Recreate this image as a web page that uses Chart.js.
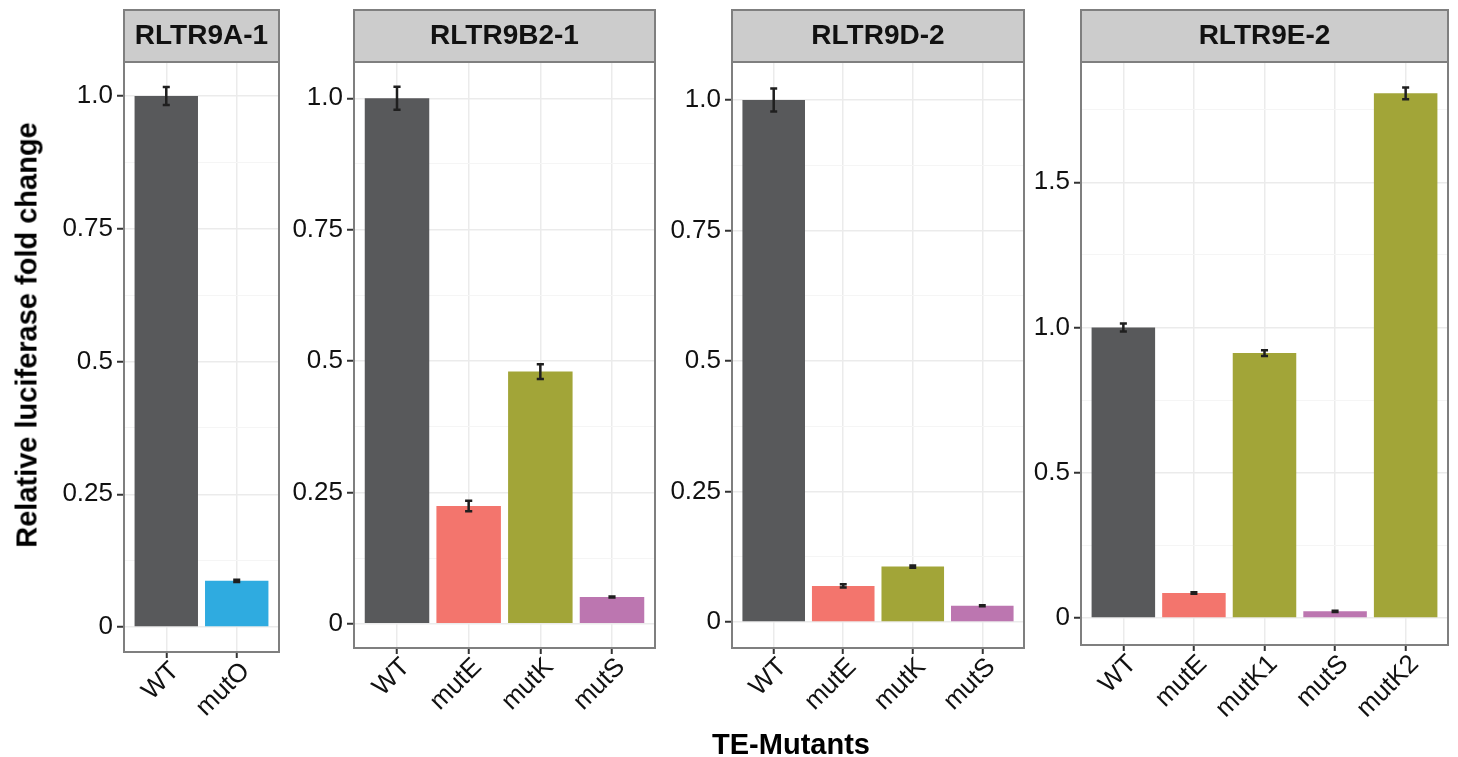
<!DOCTYPE html>
<html>
<head>
<meta charset="utf-8">
<script src="https://cdn.jsdelivr.net/npm/chart.js@4.4.0/dist/chart.umd.min.js"></script>
<style>
  body { margin: 0; background: #fff; width: 1458px; height: 757px; overflow: hidden; position: relative; font-family: 'Liberation Sans', Arial, Helvetica, sans-serif; }
  canvas { position: absolute; left: 0; top: 0; }
  .ytitle { position: absolute; left: 27px; top: 335px; transform: translate(-50%, -50%) rotate(-90deg); font-weight: bold; font-size: 29px; white-space: nowrap; color: #000; }
  .xtitle { position: absolute; left: 791px; top: 744px; transform: translate(-50%, -50%); font-weight: bold; font-size: 29px; white-space: nowrap; color: #000; }
</style>
</head>
<body>
<canvas id="p1" width="1458" height="757"></canvas>
<canvas id="p2" width="1458" height="757"></canvas>
<canvas id="p3" width="1458" height="757"></canvas>
<canvas id="p4" width="1458" height="757"></canvas>
<div class="ytitle">Relative luciferase fold change</div>
<div class="xtitle">TE-Mutants</div>
<script>
// values

var titles = ["RLTR9A-1", "RLTR9B2-1", "RLTR9D-2", "RLTR9E-2"];

var catsA = ["WT", "mutO"];
var valsA = [1.0, 0.087];
var errsA = [0.017, 0.002];

var catsB = ["WT", "mutE", "mutK", "mutS"];
var valsB = [1.0, 0.224, 0.48, 0.051];
var errsB = [0.022, 0.01, 0.014, 0.001];

var catsD = ["WT", "mutE", "mutK", "mutS"];
var valsD = [1.0, 0.069, 0.106, 0.031];
var errsD = [0.022, 0.003, 0.002, 0.001];

var catsE = ["WT", "mutE", "mutK1", "mutS", "mutK2"];
var valsE = [1.0, 0.086, 0.912, 0.023, 1.806];
var errsE = [0.014, 0.003, 0.01, 0.002, 0.02];

var ticksSmall = [0, 0.25, 0.5, 0.75, 1.0];
var labelsSmall = ["0", "0.25", "0.5", "0.75", "1.0"];
var ticksLarge = [0, 0.5, 1.0, 1.5];
var labelsLarge = ["0", "0.5", "1.0", "1.5"];

var colours = {
  WT: "#58595B", mutO: "#2FABE0", mutE: "#F3756D",
  mutK: "#A2A538", mutK1: "#A2A538", mutK2: "#A2A538", mutS: "#BC76B0"
};

var W = 1458, H = 757, STRIP = 52;

Chart.defaults.font.family = "'Liberation Sans', Arial, Helvetica, sans-serif";

var stripPlugin = {
  id: "strip",
  beforeDraw: function (chart) {
    var a = chart.chartArea, ctx = chart.ctx;
    ctx.save();
    ctx.fillStyle = "#CCCCCC";
    ctx.fillRect(a.left, a.top - STRIP, a.right - a.left, STRIP);
    ctx.strokeStyle = "#7F7F7F";
    ctx.lineWidth = 2;
    ctx.strokeRect(a.left, a.top - STRIP, a.right - a.left, STRIP);
    ctx.restore();
  },
  afterDraw: function (chart) {
    var a = chart.chartArea, ctx = chart.ctx;
    ctx.save();
    ctx.strokeStyle = "#7F7F7F";
    ctx.lineWidth = 2;
    ctx.strokeRect(a.left, a.top, a.right - a.left, a.bottom - a.top);
    ctx.restore();
  }
};

function errorPlugin(vals, errs) {
  return {
    id: "errbars",
    afterDatasetsDraw: function (chart) {
      var xs = chart.scales.x, ys = chart.scales.y, ctx = chart.ctx;
      ctx.save();
      ctx.strokeStyle = "#1F1F1F";
      ctx.lineWidth = 2.5;
      for (var i = 0; i < vals.length; i++) {
        var x = xs.getPixelForValue(i);
        var hw = xs.getPixelForValue(i + 0.05) - x;
        var top = ys.getPixelForValue(vals[i] + errs[i]);
        var bot = ys.getPixelForValue(vals[i] - errs[i]);
        ctx.beginPath();
        ctx.moveTo(x, top); ctx.lineTo(x, bot);
        ctx.moveTo(x - hw, top); ctx.lineTo(x + hw, top);
        ctx.moveTo(x - hw, bot); ctx.lineTo(x + hw, bot);
        ctx.stroke();
      }
      ctx.restore();
    }
  };
}

function makePanel(id, title, cats, vals, errs, yTicks, yLabels, box) {
  var step = yTicks[1] - yTicks[0];
  new Chart(document.getElementById(id), {
    type: "bar",
    data: {
      datasets: [{
        data: cats.map(function (c, i) { return { x: i, y: vals[i] }; }),
        backgroundColor: cats.map(function (c) { return colours[c]; }),
        categoryPercentage: 1,
        barPercentage: 0.9
      }]
    },
    options: {
      responsive: false,
      animation: false,
      devicePixelRatio: 1,
      layout: { padding: { left: 0, top: 10, right: W - box.right, bottom: 0 } },
      plugins: {
        legend: { display: false },
        tooltip: { enabled: false },
        title: {
          display: true, text: title, fullSize: false, color: "#111",
          font: { size: 28, weight: "bold" }, padding: { top: 9, bottom: 9.4 }
        }
      },
      scales: {
        x: {
          type: "linear",
          offset: false,
          min: -0.6,
          max: cats.length - 0.4,
          afterBuildTicks: function (s) {
            s.ticks = cats.map(function (c, i) { return { value: i }; });
          },
          afterFit: function (s) { s.height = H - box.bottom; },
          ticks: {
            callback: function (v) { return cats[v]; },
            minRotation: 45, maxRotation: 45, autoSkip: false,
            color: "#111", font: { size: 26 }, padding: -2, labelOffset: 9
          },
          grid: { offset: false, color: "#EBEBEB", lineWidth: 1.5, tickColor: "#333", tickLength: 6, tickWidth: 2 },
          border: { display: false }
        },
        y: {
          min: box.ymin,
          max: box.ymax,
          afterBuildTicks: function (s) {
            var t = yTicks.map(function (v) { return { value: v }; });
            yTicks.forEach(function (v) {
              if (v + step / 2 < box.ymax) t.push({ value: v + step / 2, minorGrid: true });
            });
            t.sort(function (a, b) { return a.value - b.value; });
            s.ticks = t;
          },
          afterFit: function (s) { s.width = box.left; },
          ticks: {
            autoSkip: false, color: "#111", font: { size: 26 }, padding: 4,
            callback: function (v) {
              var k = yTicks.indexOf(v);
              return k >= 0 ? yLabels[k] : "";
            }
          },
          grid: {
            color: function (c) { return c.tick && c.tick.minorGrid ? "#F5F5F5" : "#EBEBEB"; },
            lineWidth: function (c) { return c.tick && c.tick.minorGrid ? 1 : 1.5; },
            tickColor: function (c) { return c.tick && c.tick.minorGrid ? "rgba(0,0,0,0)" : "#333"; },
            tickLength: 7, tickWidth: 2
          },
          border: { display: false }
        }
      }
    },
    plugins: [stripPlugin, errorPlugin(vals, errs)]
  });
}

makePanel("p1", titles[0], catsA, valsA, errsA, ticksSmall, labelsSmall,
  { left: 124, right: 279, bottom: 652, ymin: -0.047, ymax: 1.064 });
makePanel("p2", titles[1], catsB, valsB, errsB, ticksSmall, labelsSmall,
  { left: 354, right: 655, bottom: 648, ymin: -0.046, ymax: 1.069 });
makePanel("p3", titles[2], catsD, valsD, errsD, ticksSmall, labelsSmall,
  { left: 732, right: 1024, bottom: 648, ymin: -0.05, ymax: 1.073 });
makePanel("p4", titles[3], catsE, valsE, errsE, ticksLarge, labelsLarge,
  { left: 1081, right: 1448, bottom: 645, ymin: -0.093, ymax: 1.914 });
</script>
</body>
</html>
